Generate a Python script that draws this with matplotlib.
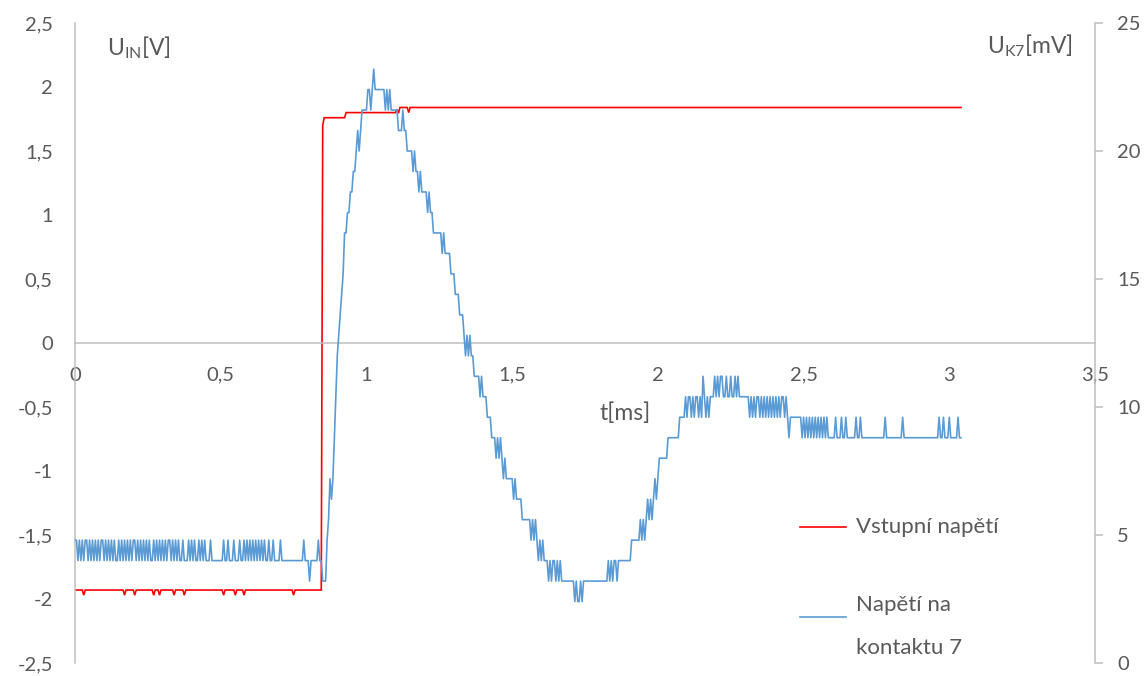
import numpy as np
import matplotlib
matplotlib.use("Agg")
import matplotlib.pyplot as plt
from matplotlib.lines import Line2D

# ------------------------------------------------------------------ data
DT_MS = 0.005          # sample spacing of the record [ms]
N_SAMPLES = 609        # 0 ... 3.04 ms

X_TICKS = [0, 0.5, 1, 1.5, 2, 2.5, 3, 3.5]
X_TICK_LABELS = ["0", "0,5", "1", "1,5", "2", "2,5", "3", "3,5"]
Y_LEFT_TICKS = [-2.5, -2, -1.5, -1, -0.5, 0, 0.5, 1, 1.5, 2, 2.5]
Y_LEFT_LABELS = ["-2,5", "-2", "-1,5", "-1", "-0,5", "0", "0,5", "1", "1,5", "2", "2,5"]
Y_RIGHT_TICKS = [0, 5, 10, 15, 20, 25]
Y_RIGHT_LABELS = ["0", "5", "10", "15", "20", "25"]

SERIES_NAMES = ["Vstupní napětí", "Napětí na\nkontaktu 7"]
AXIS_TITLES = ["U$_{\\mathrm{IN}}$[V]", "U$_{\\mathrm{K7}}$[mV]", "t[ms]"]

# input voltage: held levels (first sample, volts) and one-sample dips
RED_LEVEL_START = [0, 170, 171, 186, 221, 222, 223, 229, 230]
RED_LEVEL_V = [-1.93, 1.70, 1.76, 1.80, 1.825, 1.795, 1.84, 1.80, 1.84]
RED_DIP_SAMPLE = [6, 34, 41, 54, 58, 68, 75, 102, 110, 116, 150]
RED_DIP_V = -1.97

# contact-7 voltage: ADC code per sample (base-36 digit), 1 code = 0.8 mV
ADC_STEP_MV = 0.8
BLUE_CODES = [
    (0, "6656565665656565656656565656556565656565665656565656556565656565665656565"),
    (70, "5655655565656556565655565"),
    (95, "5555555"),
    (102, "6556555655565565656565656565655655655556"),
    (142, "555555555555555"),
    (157, "6555455555655444"),
    (173, "67989bdfghijllmmnnoopqpqrrrrssrsts"),
    (207, "ssssss"),
    (213, "rsrsr"),
    (218, "rrrr"),
    (222, "qqqrqq"),
    (228, "ppppopoo"),
    (236, "nonnnn"),
    (242, "mnmm"),
    (246, "llllll"),
    (252, "klkkkk"),
    (258, "jjjiiihhh"),
    (267, "gfgfgff"),
    (274, "eeeededdd"),
    (283, "cccbbb"),
    (289, "ababaa"),
    (294, "9a99999"),
    (301, "898888"),
    (307, "777777"),
    (313, "6767"),
    (317, "65656555"),
    (325, "45455454544"),
    (336, "4444444"),
    (343, "3433434"),
    (350, "4444444444444444"),
    (366, "54545545"),
    (374, "55555555"),
    (382, "666666"),
    (388, "76767"),
    (393, "87878"),
    (398, "989"),
    (401, "aaaaaa"),
    (407, "bbbbbbbb"),
    (415, "cccc"),
    (419, "dcddcdcddcdc"),
    (431, "e"),
    (432, "dcdcdd"),
    (438, "dededeeddeddeddedede"),
    (457, "ddddd"),
    (462, "dcdcdcddcdcdcdcdcdcdcdcddcdc"),
    (490, "b"),
    (491, "cccccccc"),
    (499, "bcbcbcbcbcbcbcbc"),
    (515, "bcbbbbbcbbbcbbcbbbbbbcbbcb"),
    (541, "bbbbbbbbbbbbbbb"),
    (556, "cbbbbbbbbbbbc"),
    (569, "bbbbbbbbbbbbbbbbbbbbbbbb"),
    (593, "cbbcbbbcbbbbbcbb"),
]

# ------------------------------------------------------------------ series
t_ms = np.arange(N_SAMPLES) * DT_MS

u_in = np.empty(N_SAMPLES)
for start, v in zip(RED_LEVEL_START, RED_LEVEL_V):
    u_in[start:] = v
u_in[RED_DIP_SAMPLE] = RED_DIP_V

codes = np.full(N_SAMPLES, -1)
for start, s in BLUE_CODES:
    for j, ch in enumerate(s):
        if start + j < N_SAMPLES:
            codes[start + j] = int(ch, 36)
for i in range(1, N_SAMPLES):
    if codes[i] < 0:
        codes[i] = codes[i - 1]
u_k7 = codes * ADC_STEP_MV

# ------------------------------------------------------------------ style
plt.rcParams["font.family"] = ["Lato", "DejaVu Sans"]
plt.rcParams["mathtext.fontset"] = "custom"
plt.rcParams["mathtext.rm"] = "Lato"
plt.rcParams["mathtext.it"] = "Lato:italic"
plt.rcParams["mathtext.bf"] = "Lato:bold"

RED = "#FF0000"
BLUE = "#5B9BD5"
GREY = "#BFBFBF"
TXT = "#595959"
TICK_FS = 14.5
TITLE_FS = 16.5
LEG_FS = 16

W, H = 1145, 676
fig = plt.figure(figsize=(W / 100, H / 100), dpi=100)
ax = fig.add_axes([75 / W, 1 - 663 / H, 1020 / W, 640 / H])
ax2 = ax.twinx()

ax.plot(t_ms, u_in, color=RED, lw=1.2, solid_joinstyle="miter")
ax2.plot(t_ms, u_k7, color=BLUE, lw=1.2)

ax.set_xlim(0, 3.5)
ax.set_ylim(-2.5, 2.5)
ax2.set_ylim(0, 25)

ax.set_xticks(X_TICKS)
ax.set_xticklabels(X_TICK_LABELS)
ax.set_yticks(Y_LEFT_TICKS)
ax.set_yticklabels(Y_LEFT_LABELS)
ax2.set_yticks(Y_RIGHT_TICKS)
ax2.set_yticklabels(Y_RIGHT_LABELS)

for sp in ["top", "right"]:
    ax.spines[sp].set_visible(False)
for sp in ["top", "left", "bottom"]:
    ax2.spines[sp].set_visible(False)
ax.spines["bottom"].set_position(("data", 0))
for sp in [ax.spines["left"], ax.spines["bottom"], ax2.spines["right"]]:
    sp.set_color(GREY)
    sp.set_linewidth(1.1)

ax.tick_params(axis="x", length=0, pad=17, labelsize=TICK_FS, labelcolor=TXT)
ax.tick_params(axis="y", length=0, pad=16, labelsize=TICK_FS, labelcolor=TXT)
ax2.tick_params(axis="y", direction="out", length=6, width=1.1, color=GREY,
                pad=10, labelsize=TICK_FS, labelcolor=TXT)

# axis titles
fig.text(107 / W, 1 - 55 / H, AXIS_TITLES[0], fontsize=TITLE_FS, color=TXT,
         ha="left", va="baseline")
fig.text(1073 / W, 1 - 53 / H, AXIS_TITLES[1], fontsize=TITLE_FS, color=TXT,
         ha="right", va="baseline")
fig.text(600 / W, 1 - 420 / H, AXIS_TITLES[2], fontsize=TITLE_FS, color=TXT,
         ha="left", va="baseline")

# legend
fig.add_artist(Line2D([800 / W, 846 / W], [1 - 527 / H] * 2, color=RED, lw=1.2))
fig.add_artist(Line2D([800 / W, 846 / W], [1 - 617 / H] * 2, color=BLUE, lw=1.2))
fig.text(856 / W, 1 - 533 / H, SERIES_NAMES[0], fontsize=LEG_FS, color=TXT,
         ha="left", va="baseline")
line1, line2 = SERIES_NAMES[1].split("\n")
fig.text(856 / W, 1 - 611 / H, line1, fontsize=LEG_FS, color=TXT,
         ha="left", va="baseline")
fig.text(856 / W, 1 - 654 / H, line2, fontsize=LEG_FS, color=TXT,
         ha="left", va="baseline")

fig.savefig("out.png", dpi=100)
